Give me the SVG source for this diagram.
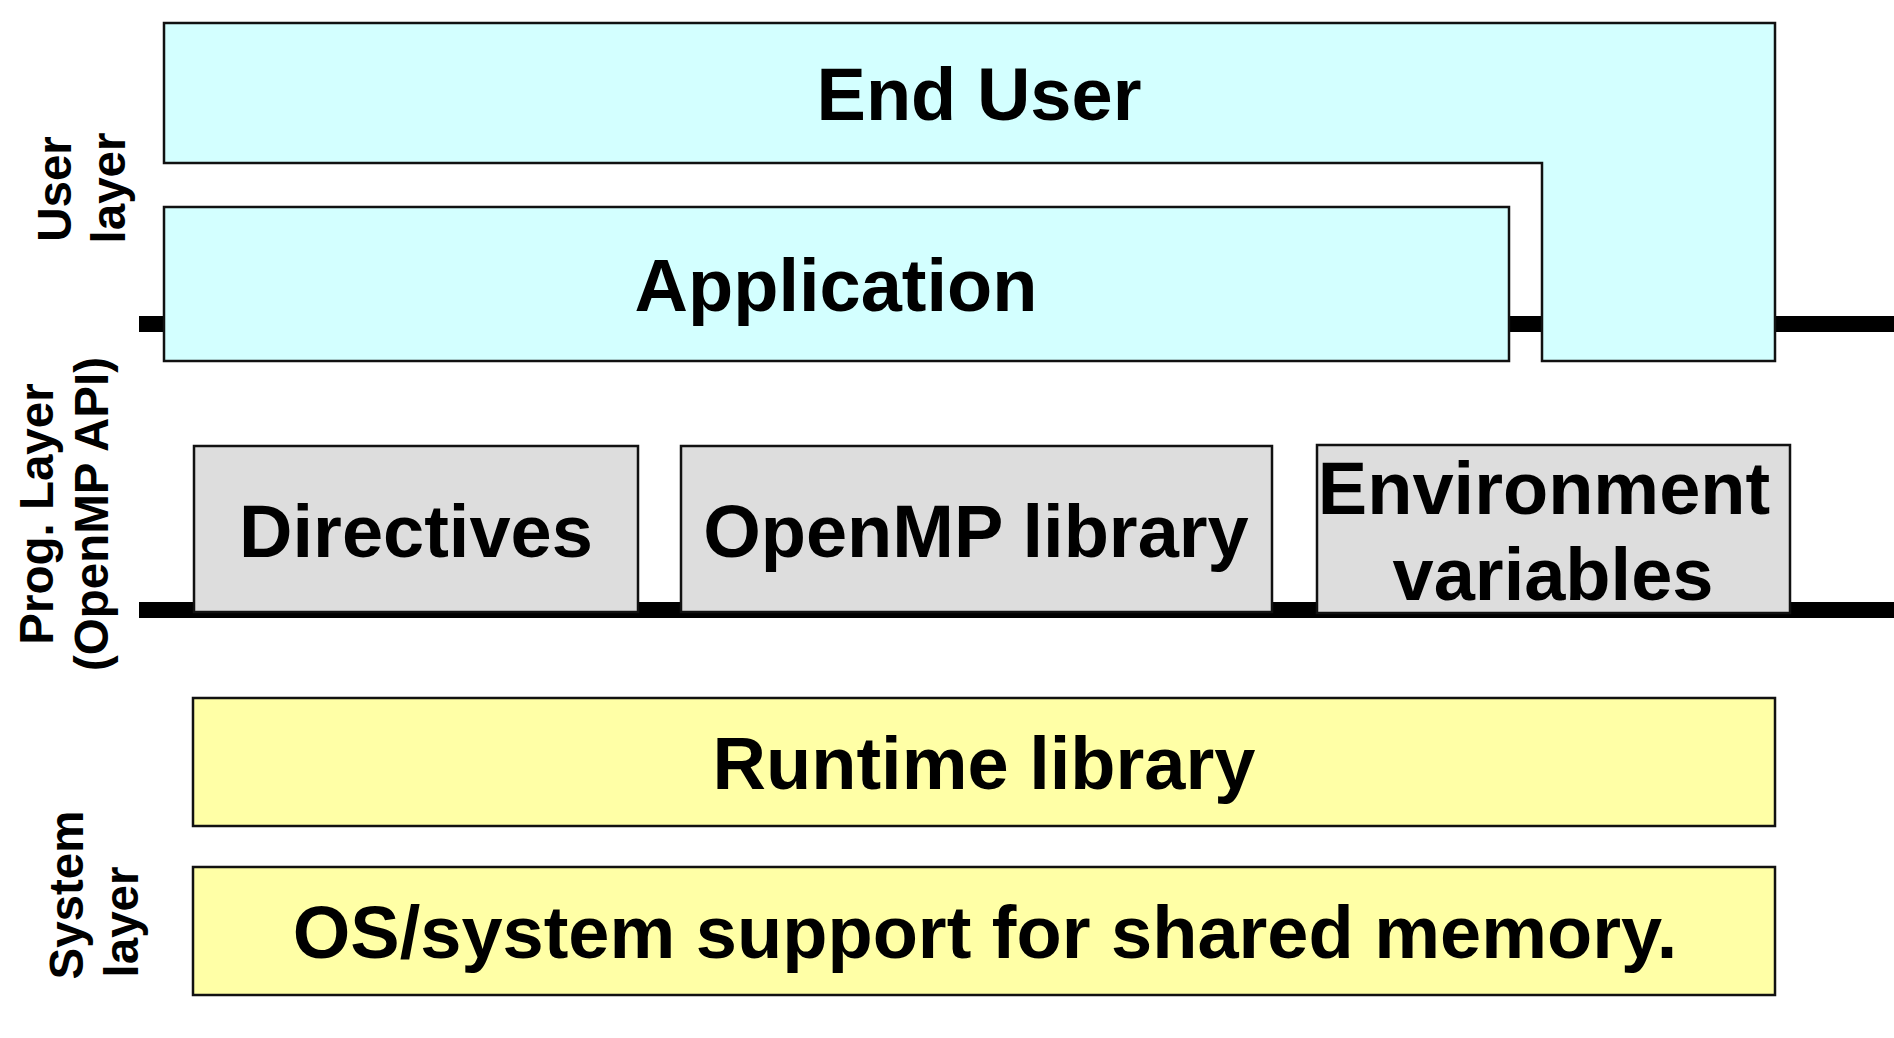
<svg xmlns="http://www.w3.org/2000/svg" width="1894" height="1038" viewBox="0 0 1894 1038">
<style>
text{font-family:"Liberation Sans",Arial,sans-serif;font-weight:bold;fill:#000}
.lbl{font-size:74px;text-anchor:middle}
.side{font-size:47.5px;text-anchor:middle}
.box{stroke:#111;stroke-width:2.5}
.cyan{fill:#D3FFFF}
.gray{fill:#DDDDDD}
.yel{fill:#FFFFA6}
</style>
<rect width="1894" height="1038" fill="#fff"/>
<g id="connectors">
<rect x="139" y="316" width="1755" height="16" fill="#000"/>
<rect x="139" y="602" width="1755" height="16" fill="#000"/>
</g>
<g id="labels">
<text class="side" transform="translate(71,189) rotate(-90)">User</text>
<text class="side" transform="translate(125,188) rotate(-90)">layer</text>
<text class="side" transform="translate(53,514) rotate(-90)">Prog. Layer</text>
<text class="side" transform="translate(108,514) rotate(-90)">(OpenMP API)</text>
<text class="side" transform="translate(83,895) rotate(-90)">System</text>
<text class="side" transform="translate(138,922) rotate(-90)">layer</text>
</g>
<g id="enduser">
<path class="box cyan" d="M164,23 H1775 V361 H1542 V163 H164 Z"/>
<text class="lbl" x="979" y="120">End User</text>
</g>
<g id="application">
<rect class="box cyan" x="164" y="207" width="1345" height="154"/>
<text class="lbl" x="836" y="311">Application</text>
</g>
<g id="directives">
<rect class="box gray" x="194" y="446" width="444" height="166"/>
<text class="lbl" x="416" y="557">Directives</text>
</g>
<g id="openmplib">
<rect class="box gray" x="681" y="446" width="591" height="166"/>
<text class="lbl" x="976" y="557">OpenMP library</text>
</g>
<g id="envvars">
<rect class="box gray" x="1317" y="445" width="473" height="168"/>
<text class="lbl" x="1544" y="514">Environment</text>
<text class="lbl" x="1553" y="600">variables</text>
</g>
<g id="runtime">
<rect class="box yel" x="193" y="698" width="1582" height="128"/>
<text class="lbl" x="984" y="789">Runtime library</text>
</g>
<g id="ossupport">
<rect class="box yel" x="193" y="867" width="1582" height="128"/>
<text class="lbl" x="985" y="958">OS/system support for shared memory.</text>
</g>
</svg>
